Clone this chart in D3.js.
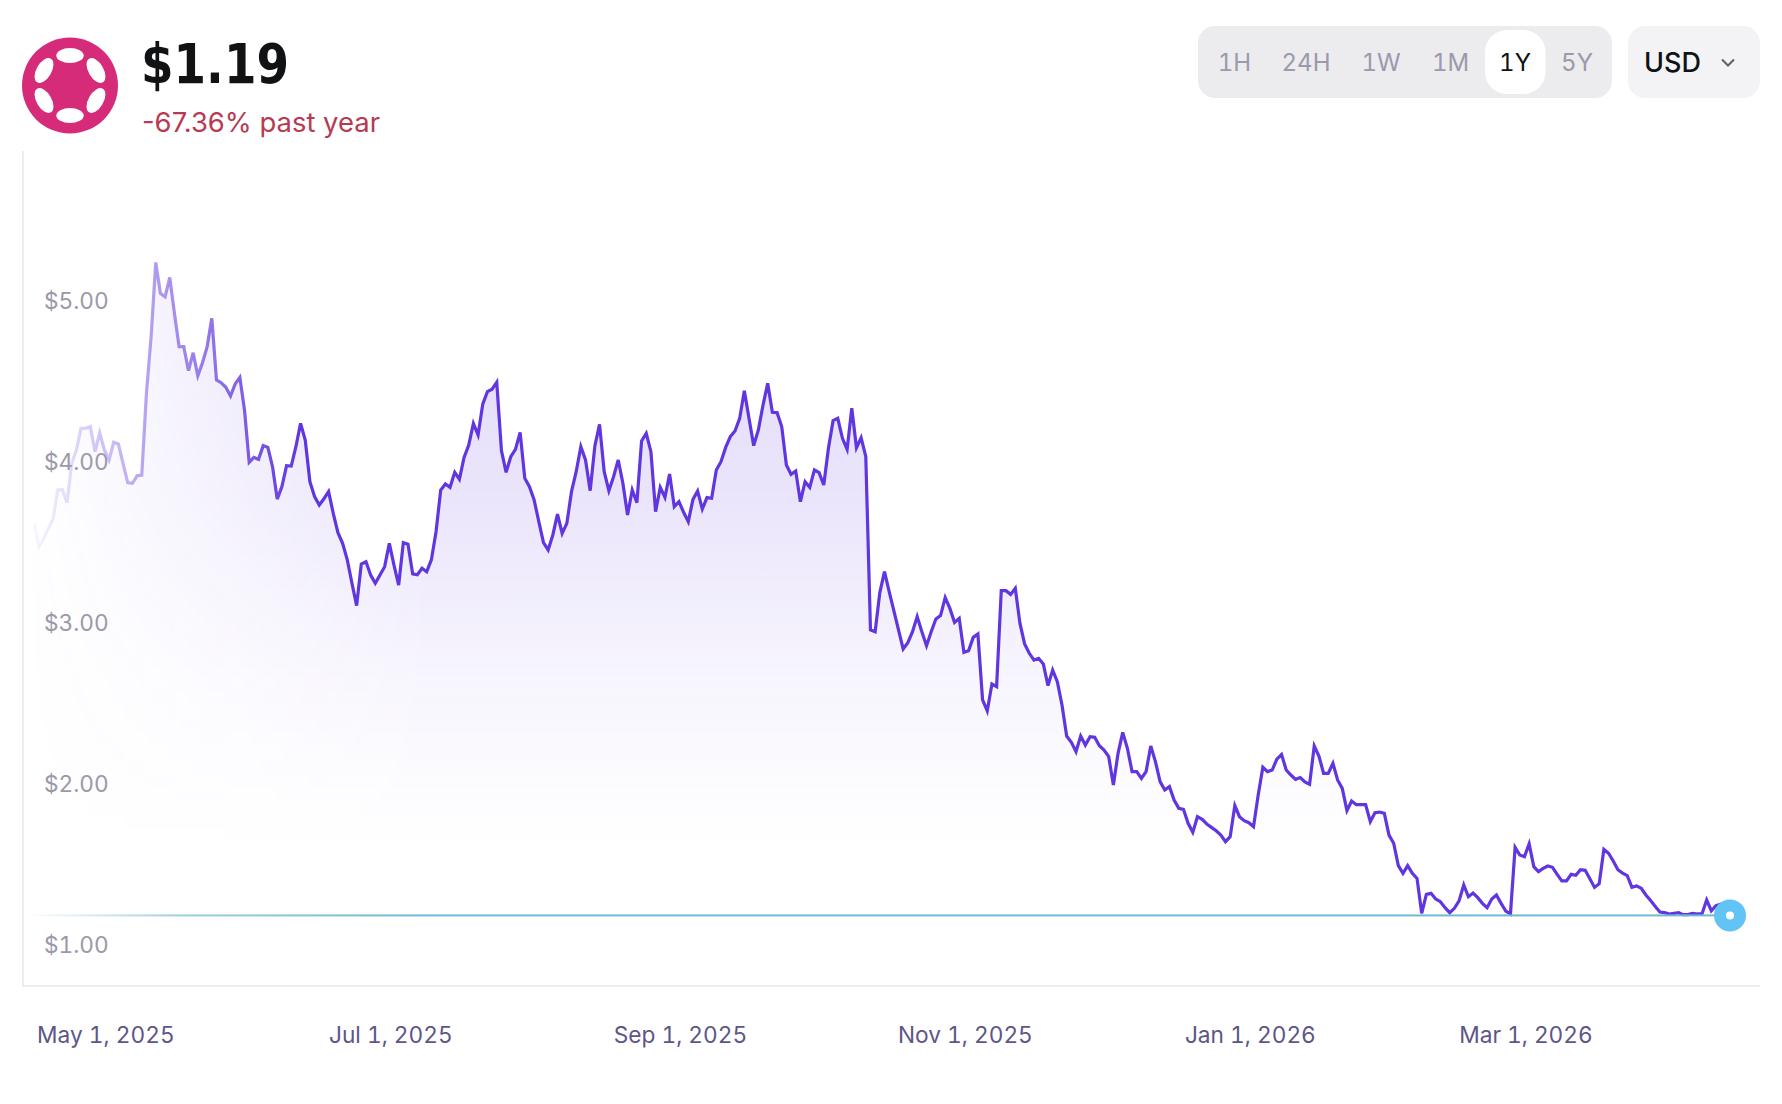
<!DOCTYPE html>
<html>
<head>
<meta charset="utf-8">
<script src="https://cdn.jsdelivr.net/npm/d3@7"></script>
<style>
  html, body { margin: 0; padding: 0; background: #fff; }
  svg { display: block; }
  text { font-family: Inter, "Noto Sans", sans-serif; font-feature-settings: "tnum"; }
</style>
</head>
<body>
<script>
// Daily price, Apr 16 2025 to Apr 14 2026
const priceValues = [
  3.625, 3.480, 3.532, 3.594, 3.650, 3.832, 3.836, 3.754, 3.998, 4.081,
  4.215, 4.217, 4.226, 4.070, 4.188, 4.081, 4.019, 4.130, 4.118, 3.998,
  3.878, 3.874, 3.921, 3.925, 4.433, 4.785, 5.246, 5.054, 5.033, 5.153,
  4.930, 4.723, 4.723, 4.574, 4.685, 4.542, 4.623, 4.723, 4.899, 4.516,
  4.499, 4.470, 4.416, 4.491, 4.532, 4.329, 4.004, 4.035, 4.023, 4.108,
  4.097, 3.977, 3.776, 3.853, 3.983, 3.981, 4.101, 4.246, 4.143, 3.884,
  3.791, 3.739, 3.778, 3.822, 3.687, 3.567, 3.501, 3.398, 3.253, 3.114,
  3.373, 3.387, 3.304, 3.253, 3.304, 3.356, 3.501, 3.366, 3.242, 3.505,
  3.495, 3.311, 3.306, 3.346, 3.325, 3.398,
  3.573, 3.832, 3.870, 3.849, 3.942, 3.899, 4.035, 4.112, 4.246, 4.174,
  4.366, 4.443, 4.458, 4.501, 4.077, 3.942, 4.039, 4.085, 4.190, 3.905,
  3.853, 3.770, 3.636, 3.505, 3.460, 3.553, 3.683, 3.563, 3.625, 3.822,
  3.946, 4.101, 4.019, 3.828, 4.106, 4.240, 3.946, 3.828, 3.915, 4.019,
  3.874, 3.677, 3.832, 3.754, 4.137, 4.184, 4.070, 3.698, 3.849, 3.787,
  3.932, 3.729, 3.760, 3.694, 3.636, 3.774, 3.826, 3.714, 3.785, 3.781,
  3.957, 4.008, 4.097, 4.164, 4.199, 4.277, 4.449, 4.277, 4.108, 4.205,
  4.360, 4.495, 4.315, 4.313, 4.226, 3.988, 3.930, 3.950, 3.760, 3.884,
  3.849, 3.957, 3.940, 3.863, 4.091, 4.263, 4.277, 4.153, 4.085, 4.340,
  4.095, 4.157, 4.039, 2.963, 2.952,
  3.195, 3.325, 3.201, 3.083, 2.963, 2.845, 2.884, 2.952, 3.046, 2.952,
  2.865, 2.952, 3.031, 3.052, 3.164, 3.097, 3.010, 3.035, 2.824, 2.834,
  2.917, 2.938, 2.528, 2.460, 2.627, 2.611, 3.207, 3.207, 3.184, 3.222,
  3.004, 2.876, 2.818, 2.776, 2.787, 2.752, 2.617, 2.714, 2.642, 2.497,
  2.304, 2.265, 2.207, 2.304, 2.248, 2.300, 2.296, 2.244, 2.217, 2.176,
  2.000, 2.197, 2.327, 2.228, 2.083, 2.083, 2.041, 2.083, 2.242, 2.145,
  2.021, 1.969, 1.990, 1.907, 1.855, 1.849, 1.762, 1.706, 1.803, 1.787,
  1.758, 1.737, 1.716, 1.689, 1.648, 1.679, 1.872, 1.803, 1.778, 1.766,
  1.741, 1.938, 2.110, 2.083, 2.093, 2.161, 2.190,
  2.093, 2.062, 2.035, 2.046, 2.019, 2.004, 2.242, 2.180, 2.072, 2.072,
  2.135, 2.031, 1.979, 1.841, 1.901, 1.878, 1.878, 1.878, 1.772, 1.828,
  1.832, 1.824, 1.689, 1.638, 1.499, 1.451, 1.499, 1.451, 1.420, 1.203,
  1.321, 1.327, 1.292, 1.275, 1.238, 1.207, 1.234, 1.280, 1.379, 1.306,
  1.329, 1.300, 1.265, 1.238, 1.292, 1.317, 1.265, 1.217, 1.199, 1.613,
  1.565, 1.555, 1.634, 1.493, 1.462, 1.482, 1.497, 1.489, 1.445, 1.404,
  1.404, 1.445, 1.439, 1.474, 1.470, 1.418, 1.364, 1.387, 1.600, 1.576,
  1.528, 1.474, 1.453, 1.437, 1.364, 1.373, 1.358, 1.317, 1.282, 1.246,
  1.211, 1.207, 1.199, 1.203, 1.207, 1.195, 1.195, 1.203, 1.199, 1.199,
  1.286, 1.219, 1.251, 1.259, 1.240, 1.190
];
const currentPrice = 1.19;
const startDate = new Date(2025, 3, 16);
const xTickDates = [new Date(2025, 4, 1), new Date(2025, 6, 1), new Date(2025, 8, 1),
                    new Date(2025, 10, 1), new Date(2026, 0, 1), new Date(2026, 2, 1)];
const yTicks = [1, 2, 3, 4, 5];
const rangeLabels = ['1H', '24H', '1W', '1M', '1Y', '5Y'];
const rangeCenters = [1234.5, 1306, 1381, 1450.5, 1515, 1577];
const activeRange = '1Y';

const width = 1782, height = 1104;
const purple = '#6036e0';

const svg = d3.select('body').append('svg')
  .attr('width', width)
  .attr('height', height);
const defs = svg.append('defs');

const x = d3.scaleTime()
  .domain([startDate, d3.timeDay.offset(startDate, priceValues.length - 1)])
  .range([34.3, 1730]);
const y = d3.scaleLinear().domain([1, 5]).range([946, 302]);

const data = priceValues.map((v, i) => ({ date: d3.timeDay.offset(startDate, i), value: v }));

// gradients
const fillGrad = defs.append('linearGradient').attr('id', 'areaFill')
  .attr('gradientUnits', 'userSpaceOnUse')
  .attr('x1', 0).attr('x2', 0).attr('y1', 262).attr('y2', 850);
fillGrad.append('stop').attr('offset', 0).attr('stop-color', purple).attr('stop-opacity', 0.19);
fillGrad.append('stop').attr('offset', 0.4).attr('stop-color', purple).attr('stop-opacity', 0.13);
fillGrad.append('stop').attr('offset', 0.7).attr('stop-color', purple).attr('stop-opacity', 0.05);
fillGrad.append('stop').attr('offset', 1).attr('stop-color', purple).attr('stop-opacity', 0);

function addFadeMask(id, x1, x2) {
  const grad = defs.append('linearGradient').attr('id', id + 'Grad')
    .attr('gradientUnits', 'userSpaceOnUse')
    .attr('x1', x1).attr('x2', x2).attr('y1', 0).attr('y2', 0);
  grad.append('stop').attr('offset', 0).attr('stop-color', '#fff').attr('stop-opacity', 0);
  grad.append('stop').attr('offset', 1).attr('stop-color', '#fff').attr('stop-opacity', 1);
  defs.append('mask').attr('id', id)
    .attr('maskUnits', 'userSpaceOnUse')
    .attr('x', 0).attr('y', 0).attr('width', width).attr('height', height)
    .append('rect').attr('width', width).attr('height', height).attr('fill', `url(#${id}Grad)`);
}
addFadeMask('lineFade', 22, 300);
addFadeMask('areaFade', 22, 430);

const blueGrad = defs.append('linearGradient').attr('id', 'blueFade')
  .attr('gradientUnits', 'userSpaceOnUse')
  .attr('x1', 24).attr('x2', 423).attr('y1', 0).attr('y2', 0);
blueGrad.append('stop').attr('offset', 0).attr('stop-color', '#72b8d2').attr('stop-opacity', 0);
blueGrad.append('stop').attr('offset', 0.4).attr('stop-color', '#72b8d2').attr('stop-opacity', 0.7);
blueGrad.append('stop').attr('offset', 1).attr('stop-color', '#72b8d2').attr('stop-opacity', 1);

// frame
svg.append('path')
  .attr('d', `M23,151V986H1760`)
  .attr('fill', 'none')
  .attr('stroke', '#ededef')
  .attr('stroke-width', 2);

// price area + line, fading in from the left
svg.append('path')
  .datum(data)
  .attr('mask', 'url(#areaFade)')
  .attr('fill', 'url(#areaFill)')
  .attr('d', d3.area().x(d => x(d.date)).y0(y(currentPrice)).y1(d => y(d.value)));
svg.append('path')
  .datum(data)
  .attr('mask', 'url(#lineFade)')
  .attr('fill', 'none')
  .attr('stroke', purple)
  .attr('stroke-width', 3.2)
  .attr('stroke-linejoin', 'miter')
  .attr('d', d3.line().x(d => x(d.date)).y(d => y(d.value)));

// y labels sit inside the plot
const yAxis = svg.append('g')
  .attr('transform', 'translate(44,-1)')
  .call(d3.axisRight(y).tickValues(yTicks).tickSize(0).tickPadding(0).tickFormat(d3.format('$.2f')));
yAxis.select('.domain').remove();
yAxis.selectAll('text')
  .attr('fill', '#9b99a9')
  .attr('font-size', 22.7)
  .style('font-family', 'Inter');

const xAxis = svg.append('g')
  .attr('transform', 'translate(0,1035)')
  .call(d3.axisBottom(x).tickValues(xTickDates).tickSize(0).tickPadding(0).tickFormat(d3.timeFormat('%b %-d, %Y')));
xAxis.select('.domain').remove();
xAxis.selectAll('text')
  .attr('dx', 1)
  .attr('dy', '0.35em')
  .attr('fill', '#5d5688')
  .attr('font-size', 22.7)
  .style('font-family', 'Inter');

// current price line and marker
svg.append('rect')
  .attr('x', 24)
  .attr('y', y(currentPrice) - 1)
  .attr('width', 1730 - 24)
  .attr('height', 2)
  .attr('fill', 'url(#blueFade)');
svg.append('circle')
  .attr('cx', x(data[data.length - 1].date))
  .attr('cy', y(currentPrice))
  .attr('r', 16)
  .attr('fill', '#62c3f5');
svg.append('circle')
  .attr('cx', x(data[data.length - 1].date))
  .attr('cy', y(currentPrice))
  .attr('r', 4)
  .attr('fill', '#fff');

// logo
const logo = svg.append('g').attr('transform', 'translate(70,85.5)');
logo.append('circle').attr('r', 48).attr('fill', '#d52b78');
logo.selectAll('ellipse')
  .data(d3.range(6))
  .enter().append('ellipse')
  .attr('transform', d => `rotate(${d * 60}) translate(0,-30)`)
  .attr('rx', 13.7)
  .attr('ry', 7.5)
  .attr('fill', '#fff');

// header text
svg.append('text')
  .attr('x', 141)
  .attr('y', 83)
  .attr('font-size', 55)
  .attr('font-weight', 700)
  .attr('textLength', 148)
  .attr('lengthAdjust', 'spacingAndGlyphs')
  .attr('fill', '#111214')
  .style('font-family', '"DejaVu Sans"')
  .text('$1.19');
svg.append('text')
  .attr('x', 142)
  .attr('y', 132)
  .attr('font-size', 27)
  .attr('textLength', 238)
  .attr('lengthAdjust', 'spacingAndGlyphs')
  .attr('fill', '#b83a52')
  .style('font-feature-settings', 'normal')
  .text('-67.36% past year');

// range buttons
svg.append('rect')
  .attr('x', 1198).attr('y', 26).attr('width', 414).attr('height', 72).attr('rx', 17)
  .attr('fill', '#ececef');
svg.append('rect')
  .attr('x', 1485).attr('y', 30).attr('width', 60.5).attr('height', 64).attr('rx', 22)
  .attr('fill', '#fff');
svg.selectAll('.range')
  .data(rangeLabels)
  .enter().append('text')
  .attr('class', 'range')
  .attr('x', (d, i) => rangeCenters[i])
  .attr('y', 62)
  .attr('dy', '0.36em')
  .attr('text-anchor', 'middle')
  .attr('font-size', 24)
  .attr('fill', d => d === activeRange ? '#111214' : '#9b99ac')
  .text(d => d);

// currency select
svg.append('rect')
  .attr('x', 1628).attr('y', 26).attr('width', 132).attr('height', 72).attr('rx', 17)
  .attr('fill', '#f3f3f5');
svg.append('text')
  .attr('x', 1644)
  .attr('y', 62)
  .attr('dy', '0.36em')
  .attr('font-size', 27)
  .attr('font-weight', 500)
  .attr('fill', '#111214')
  .text('USD');
svg.append('path')
  .attr('d', 'M1722,59.5l6,6l6,-6')
  .attr('fill', 'none')
  .attr('stroke', '#5f5f6b')
  .attr('stroke-width', 2);
</script>
</body>
</html>
